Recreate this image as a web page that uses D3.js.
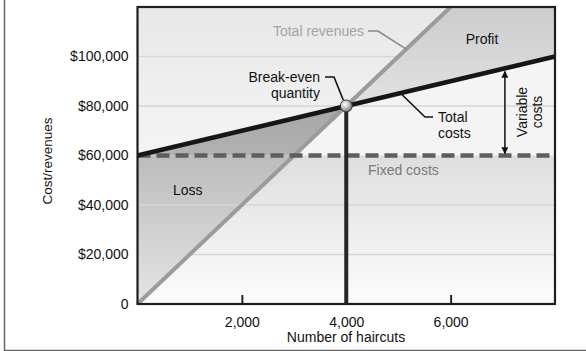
<!DOCTYPE html>
<html>
<head>
<meta charset="utf-8">
<script src="https://cdn.jsdelivr.net/npm/d3@7"></script>
<style>
  html, body { margin: 0; padding: 0; background: #fff; }
  svg { display: block; font-family: "Liberation Sans", Arial, Helvetica, sans-serif; }
</style>
</head>
<body>
<svg id="chart" width="586" height="351"></svg>
<script>
// Break-even chart for a hair salon: revenue, fixed and total costs.
const xDomain = [0, 8000];
const yDomain = [0, 120000];
const xTicks = [2000, 4000, 6000];
const xTickLabels = ["2,000", "4,000", "6,000"];
const yTicks = [0, 20000, 40000, 60000, 80000, 100000];
const yTickLabels = ["0", "$20,000", "$40,000", "$60,000", "$80,000", "$100,000"];
const gridValues = [20000, 40000, 80000, 100000];

// Line series as [haircuts, dollars]
const revenuePoints = [[0, 0], [6000, 120000]];
const totalCostPoints = [[0, 60000], [8000, 100000]];
const fixedCostPoints = [[0, 60000], [8000, 60000]];
const breakEven = [4000, 80000];

const FS = 14;

const svg = d3.select("#chart");
const x = d3.scaleLinear().domain(xDomain).range([137.5, 555]);
const y = d3.scaleLinear().domain(yDomain).range([304, 7]);

// value of a two-point line at a given x
const lineAt = (pts, xv) => pts[0][1] + (pts[1][1] - pts[0][1]) * (xv - pts[0][0]) / (pts[1][0] - pts[0][0]);
// x where a two-point line reaches a given y
const lineX = (pts, yv) => pts[0][0] + (pts[1][0] - pts[0][0]) * (yv - pts[0][1]) / (pts[1][1] - pts[0][1]);

const fixed = fixedCostPoints[0][1];
const revAtFixed = lineX(revenuePoints, fixed);

const defs = svg.append("defs");
function vGrad(id, stops) {
  const g = defs.append("linearGradient").attr("id", id)
    .attr("gradientUnits", "userSpaceOnUse")
    .attr("x1", 0).attr("x2", 0).attr("y1", y(stops[0][0])).attr("y2", y(stops[stops.length - 1][0]));
  stops.forEach(s => g.append("stop")
    .attr("offset", (y(s[0]) - y(stops[0][0])) / (y(stops[stops.length - 1][0]) - y(stops[0][0])))
    .attr("stop-color", s[1]));
}
vGrad("gTop", [[120000, "#e8e8e8"], [60000, "#f4f4f4"]]);
vGrad("gBottom", [[60000, "#dedede"], [0, "#fcfcfc"]]);
vGrad("gProfit", [[120000, "#cccccc"], [80000, "#e2e2e2"]]);
vGrad("gLossTop", [[80000, "#a6a6a6"], [60000, "#b2b2b2"]]);
vGrad("gLossBottom", [[60000, "#bcbcbc"], [0, "#e4e4e4"]]);

const rg = defs.append("radialGradient").attr("id", "gBall")
  .attr("cx", "40%").attr("cy", "35%").attr("r", "65%");
rg.append("stop").attr("offset", 0).attr("stop-color", "#ffffff");
rg.append("stop").attr("offset", 0.55).attr("stop-color", "#bdbdbd");
rg.append("stop").attr("offset", 1).attr("stop-color", "#6e6e6e");

const mk = defs.append("marker").attr("id", "arrowHead")
  .attr("viewBox", "0 0 10 10").attr("refX", 9).attr("refY", 5)
  .attr("markerWidth", 7).attr("markerHeight", 7).attr("markerUnits", "userSpaceOnUse")
  .attr("orient", "auto-start-reverse");
mk.append("path").attr("d", "M0,0 L10,5 L0,10 Z").attr("fill", "#111");

const poly = pts => "M" + pts.map(p => x(p[0]) + "," + y(p[1])).join("L") + "Z";

// background bands
svg.append("rect").attr("x", x(0)).attr("y", y(120000)).attr("width", x(8000) - x(0))
  .attr("height", y(fixed) - y(120000)).attr("fill", "url(#gTop)");
svg.append("path").attr("d", poly([[0, fixed], [8000, fixed], ...totalCostPoints.slice().reverse()]))
  .attr("fill", "#f4f4f4");
svg.append("rect").attr("x", x(0)).attr("y", y(fixed)).attr("width", x(8000) - x(0))
  .attr("height", y(0) - y(fixed)).attr("fill", "url(#gBottom)");

// profit region
svg.append("path").attr("d", poly([breakEven, revenuePoints[1], [8000, 120000], totalCostPoints[1]]))
  .attr("fill", "url(#gProfit)");
// loss region
svg.append("path").attr("d", poly([totalCostPoints[0], breakEven, [revAtFixed, fixed]]))
  .attr("fill", "url(#gLossTop)");
svg.append("path").attr("d", poly([[0, fixed], [revAtFixed, fixed], revenuePoints[0]]))
  .attr("fill", "url(#gLossBottom)");

// gridlines
svg.append("g").selectAll("line").data(gridValues).join("line")
  .attr("x1", x(0)).attr("x2", x(8000))
  .attr("y1", d => y(d)).attr("y2", d => y(d))
  .attr("stroke", "#d6d6d6").attr("stroke-width", 1.3);

// axes labels via d3 axes
const yAxis = svg.append("g").attr("transform", `translate(${x(0) - 6},0)`)
  .call(d3.axisLeft(y).tickValues(yTicks).tickSize(0).tickFormat((d, i) => yTickLabels[i]));
yAxis.select(".domain").remove();
yAxis.selectAll("text").attr("font-size", FS).attr("fill", "#111")
  .attr("font-family", "Liberation Sans, Arial, sans-serif");

const xAxis = svg.append("g").attr("transform", `translate(0,${y(0)})`)
  .call(d3.axisBottom(x).tickValues(xTicks).tickSize(-9).tickPadding(13).tickFormat((d, i) => xTickLabels[i]));
xAxis.select(".domain").remove();
xAxis.selectAll("line").attr("stroke", "#222").attr("stroke-width", 2);
xAxis.selectAll("text").attr("font-size", FS).attr("fill", "#111")
  .attr("font-family", "Liberation Sans, Arial, sans-serif");

const line = d3.line().x(d => x(d[0])).y(d => y(d[1]));

// total revenues
svg.append("path").attr("d", line(revenuePoints)).attr("stroke", "#9b9b9b")
  .attr("stroke-width", 4).attr("fill", "none");
// fixed costs
svg.append("path").attr("d", line(fixedCostPoints)).attr("stroke", "#5e5e5e")
  .attr("stroke-width", 4.5).attr("stroke-dasharray", "13,6").attr("fill", "none");
// total costs
svg.append("path").attr("d", line(totalCostPoints)).attr("stroke", "#161616")
  .attr("stroke-width", 4.5).attr("fill", "none");
// break-even quantity drop line
svg.append("line").attr("x1", x(breakEven[0])).attr("x2", x(breakEven[0]))
  .attr("y1", y(breakEven[1])).attr("y2", y(0))
  .attr("stroke", "#262626").attr("stroke-width", 4);

// variable costs arrow
const arrowX = 7040;
svg.append("line").attr("x1", x(arrowX)).attr("x2", x(arrowX))
  .attr("y1", y(lineAt(totalCostPoints, arrowX)) + 3).attr("y2", y(fixed) - 2)
  .attr("stroke", "#111").attr("stroke-width", 1.5)
  .attr("marker-start", "url(#arrowHead)").attr("marker-end", "url(#arrowHead)");

// leader lines
const leader = (pts, color) => svg.append("path")
  .attr("d", "M" + pts.map(p => p.join(",")).join("L"))
  .attr("fill", "none").attr("stroke", color).attr("stroke-width", 1.6);
const revLeadX = 5150;
leader([[368, 31], [378, 31], [x(revLeadX), y(lineAt(revenuePoints, revLeadX))]], "#8a8a8a");
leader([[325, 77], [334, 77], [x(breakEven[0]) - 3, y(breakEven[1]) - 6]], "#111");
const costLeadX = 5070;
leader([[433, 117], [425, 117], [x(costLeadX), y(lineAt(totalCostPoints, costLeadX)) + 2]], "#111");

// break-even point
svg.append("circle").attr("cx", x(breakEven[0])).attr("cy", y(breakEven[1])).attr("r", 6)
  .attr("fill", "url(#gBall)").attr("stroke", "#333").attr("stroke-width", 1);

// plot frame
svg.append("rect").attr("x", x(0)).attr("y", y(120000))
  .attr("width", x(8000) - x(0)).attr("height", y(0) - y(120000))
  .attr("fill", "none").attr("stroke", "#1e1e1e").attr("stroke-width", 2.2);

// annotations
const label = (t, px, py, opts = {}) => svg.append("text")
  .attr("x", px).attr("y", py).text(t)
  .attr("font-size", opts.size || FS)
  .attr("fill", opts.fill || "#111")
  .attr("text-anchor", opts.anchor || "start")
  .attr("transform", opts.rotate ? `rotate(-90,${px},${py})` : null);

label("Total revenues", 364, 36, { anchor: "end", fill: "#a4a4a4" });
label("Profit", 482, 44, { anchor: "middle" });
label("Break-even", 320, 82, { anchor: "end" });
label("quantity", 320, 98, { anchor: "end" });
label("Total", 438, 122);
label("costs", 438, 138);
label("Variable", 527, 112, { anchor: "middle", rotate: true });
label("costs", 542, 112, { anchor: "middle", rotate: true });
label("Fixed costs", 368, 175, { fill: "#7a7a7a" });
label("Loss", 173, 195);

// axis titles
label("Number of haircuts", 346, 342, { anchor: "middle" });
label("Cost/revenues", 52, 161, { anchor: "middle", rotate: true, size: 13.5 });

// outer frame
svg.append("path").attr("d", "M4.5,0 L4.5,350.5 L586,350.5")
  .attr("fill", "none").attr("stroke", "#666").attr("stroke-width", 1.5);
</script>
</body>
</html>
